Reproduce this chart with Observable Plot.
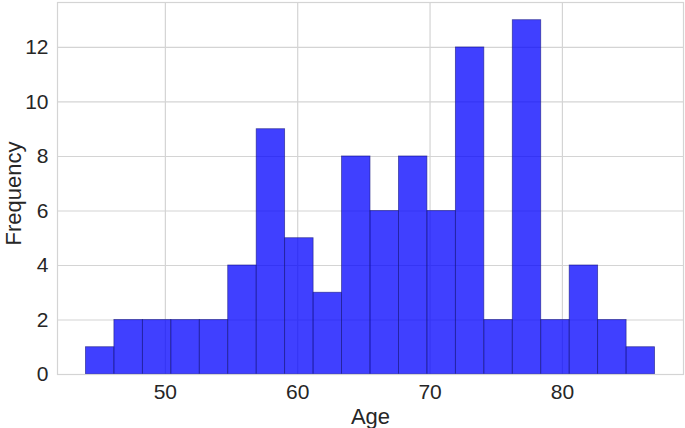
<!DOCTYPE html>
<html>
<head>
<meta charset="utf-8">
<script src="https://cdn.jsdelivr.net/npm/d3@7"></script>
<script src="https://cdn.jsdelivr.net/npm/@observablehq/plot@0.6"></script>
<style>
  html, body { margin: 0; padding: 0; background: #fff; }
</style>
</head>
<body>
<div id="chart"></div>
<script>
// Histogram of ages: 20 equal-width bins from 44 to 87
const binLo = 44;
const binHi = 87;
const counts = [1, 2, 2, 2, 2, 4, 9, 5, 3, 8, 6, 8, 6, 12, 2, 13, 2, 4, 2, 1];
const xTicks = [50, 60, 70, 80];
const yTicks = [0, 2, 4, 6, 8, 10, 12];
const xLabel = "Age";
const yLabel = "Frequency";

const w = (binHi - binLo) / counts.length;
const bins = counts.map((c, i) => ({x1: binLo + i * w, x2: binLo + (i + 1) * w, count: c}));

const pad = (binHi - binLo) * 0.05;
const yMax = d3.max(counts) * 1.05;

const chart = Plot.plot({
  width: 685,
  height: 428,
  marginLeft: 57,
  marginRight: 2,
  marginTop: 2,
  marginBottom: 54,
  style: {fontFamily: "'Liberation Sans', Arial, sans-serif", fontSize: "21px", color: "#262626", background: "#fff"},
  x: {domain: [binLo - pad, binHi + pad]},
  y: {domain: [0, yMax]},
  marks: [
    Plot.gridX(xTicks, {stroke: "#d4d4d4", strokeOpacity: 1, strokeWidth: 1.2}),
    Plot.gridY(yTicks, {stroke: "#d4d4d4", strokeOpacity: 1, strokeWidth: 1.2}),
    Plot.rectY(bins, {x1: "x1", x2: "x2", y: "count", fill: "blue", fillOpacity: 0.75, stroke: "#1a1a80", strokeOpacity: 0.7, strokeWidth: 0.8}),
    Plot.frame({stroke: "#d4d4d4", strokeWidth: 1.2}),
    Plot.axisX({ticks: xTicks, tickSize: 0, tickPadding: 10, label: null, fontSize: 21}),
    Plot.axisY({ticks: yTicks, tickSize: 0, tickPadding: 9, label: null, fontSize: 21}),
    Plot.text([xLabel], {frameAnchor: "bottom", dy: 49, textAnchor: "middle", fontSize: 22, fill: "#262626"}),
    Plot.text([yLabel], {frameAnchor: "left", dx: -44, dy: 5, rotate: -90, textAnchor: "middle", lineAnchor: "middle", fontSize: 22, fill: "#262626"})
  ]
});
document.getElementById("chart").appendChild(chart);
</script>
</body>
</html>
